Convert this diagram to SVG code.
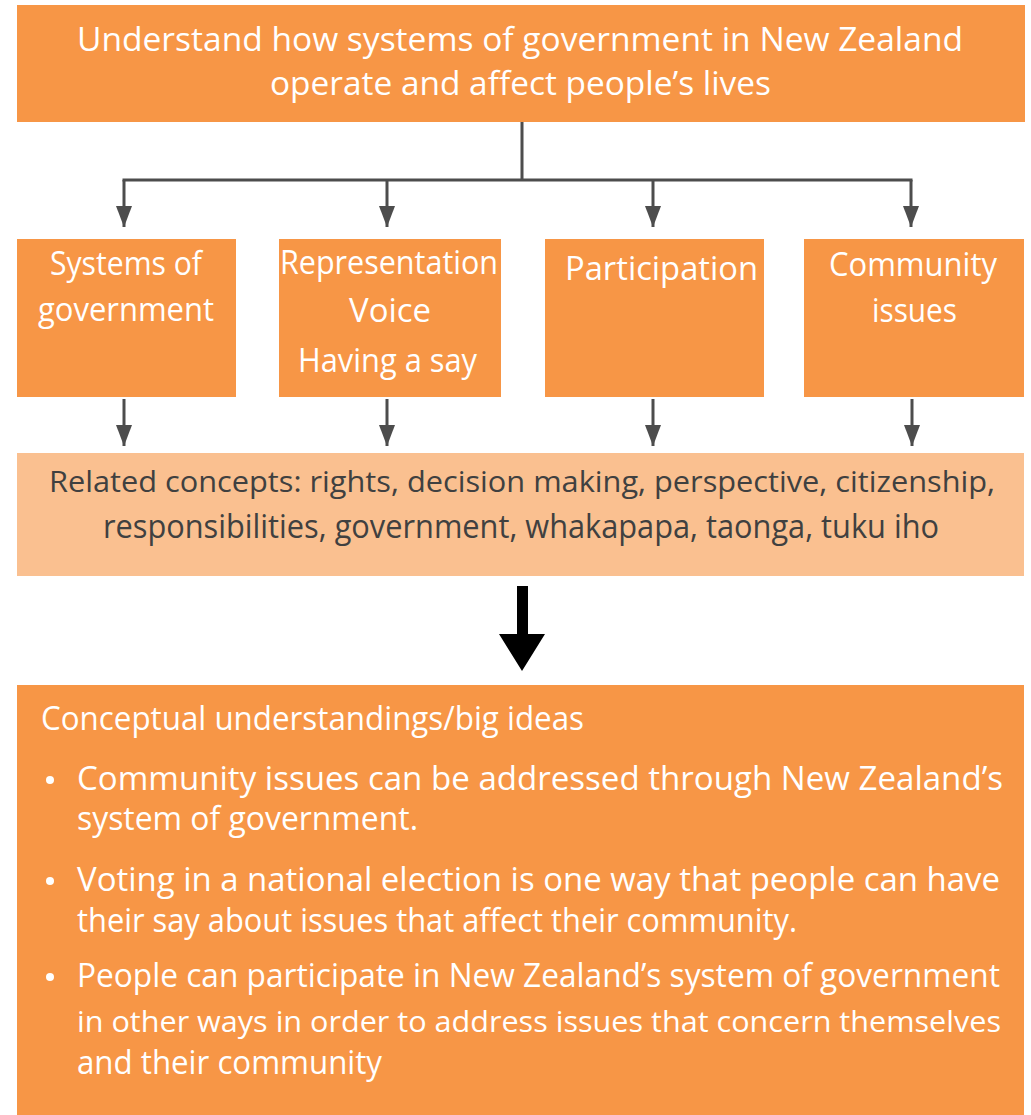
<svg xmlns="http://www.w3.org/2000/svg" width="1031" height="1115" viewBox="0 0 1031 1115">
<style>
.box{fill:#F79646}
.light{fill:#FAC090}
.t{font-family:"Open Sans","DejaVu Sans",sans-serif;fill:#FFFFFF;font-size:32px}
.s{font-size:30px}
.d{fill:#404040}
.conn{stroke:#4D4D4D;stroke-width:3;fill:none}
.dot{fill:#FFFFFF}
</style>
<defs>
<marker id="ah" markerUnits="userSpaceOnUse" markerWidth="22" markerHeight="18" viewBox="0 -9 22 18" refX="21" refY="0" orient="auto">
<path d="M0,-8 L21,0 L0,8 z" fill="#4D4D4D"/>
</marker>
</defs>
<rect width="1031" height="1115" fill="#FFFFFF"/>
<g id="title">
<rect class="box" x="17" y="5" width="1008" height="117"/>
<text class="t" x="77" y="51" textLength="886" lengthAdjust="spacingAndGlyphs">Understand how systems of government in New Zealand</text>
<text class="t" x="270" y="95" textLength="501" lengthAdjust="spacingAndGlyphs">operate and affect people’s lives</text>
</g>
<g id="systems">
<rect class="box" x="17" y="239" width="219" height="158"/>
<text class="t" x="50" y="275" textLength="152" lengthAdjust="spacingAndGlyphs">Systems of</text>
<text class="t" x="38" y="321" textLength="176" lengthAdjust="spacingAndGlyphs">government</text>
</g>
<g id="representation">
<rect class="box" x="279" y="239" width="222" height="158"/>
<text class="t" x="280" y="274" textLength="218" lengthAdjust="spacingAndGlyphs">Representation</text>
<text class="t" x="349" y="322" textLength="82" lengthAdjust="spacingAndGlyphs">Voice</text>
<text class="t" x="298" y="372" textLength="179" lengthAdjust="spacingAndGlyphs">Having a say</text>
</g>
<g id="participation">
<rect class="box" x="545" y="239" width="219" height="158"/>
<text class="t" x="565" y="280" textLength="193" lengthAdjust="spacingAndGlyphs">Participation</text>
</g>
<g id="community">
<rect class="box" x="804" y="239" width="220" height="158"/>
<text class="t" x="829" y="276" textLength="168" lengthAdjust="spacingAndGlyphs">Community</text>
<text class="t" x="872" y="322" textLength="85" lengthAdjust="spacingAndGlyphs">issues</text>
</g>
<g id="related">
<rect class="light" x="17" y="453" width="1007" height="123"/>
<text class="t s d" x="49" y="492" textLength="946" lengthAdjust="spacingAndGlyphs">Related concepts: rights, decision making, perspective, citizenship,</text>
<text class="t d" x="103" y="538" textLength="836" lengthAdjust="spacingAndGlyphs">responsibilities, government, whakapapa, taonga, tuku iho</text>
</g>
<g id="bigideas">
<rect class="box" x="17" y="685" width="1007" height="430"/>
<text class="t" x="41" y="730" textLength="543" lengthAdjust="spacingAndGlyphs">Conceptual understandings/big ideas</text>
<circle class="dot" cx="50" cy="780" r="4"/>
<circle class="dot" cx="50" cy="881" r="4"/>
<circle class="dot" cx="50" cy="977" r="4"/>
<text class="t" x="77" y="790" textLength="926" lengthAdjust="spacingAndGlyphs">Community issues can be addressed through New Zealand’s</text>
<text class="t" x="77" y="830" textLength="341" lengthAdjust="spacingAndGlyphs">system of government.</text>
<text class="t" x="77" y="891" textLength="923" lengthAdjust="spacingAndGlyphs">Voting in a national election is one way that people can have</text>
<text class="t" x="77" y="932" textLength="720" lengthAdjust="spacingAndGlyphs">their say about issues that affect their community.</text>
<text class="t" x="77" y="987" textLength="923" lengthAdjust="spacingAndGlyphs">People can participate in New Zealand’s system of government</text>
<text class="t s" x="77" y="1032" textLength="924" lengthAdjust="spacingAndGlyphs">in other ways in order to address issues that concern themselves</text>
<text class="t" x="77" y="1074" textLength="305" lengthAdjust="spacingAndGlyphs">and their community</text>
</g>
<g id="connectors">
<path class="conn" d="M522,122 V180 M122.5,180 H912.5"/>
<path class="conn" marker-end="url(#ah)" d="M124,180 V227"/>
<path class="conn" marker-end="url(#ah)" d="M387,180 V227"/>
<path class="conn" marker-end="url(#ah)" d="M653,180 V227"/>
<path class="conn" marker-end="url(#ah)" d="M911,180 V227"/>
<path class="conn" marker-end="url(#ah)" d="M124,399 V446"/>
<path class="conn" marker-end="url(#ah)" d="M387,399 V446"/>
<path class="conn" marker-end="url(#ah)" d="M653,399 V446"/>
<path class="conn" marker-end="url(#ah)" d="M912,399 V446"/>
<path d="M517,586 H528 V634 H545 L522,671 L499,634 H517 Z" fill="#000000"/>
</g>
</svg>
